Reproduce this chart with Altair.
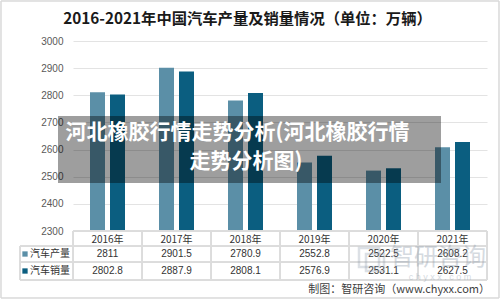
import altair as alt
import pandas as pd

years = ["2016年", "2017年", "2018年", "2019年", "2020年", "2021年"]
production = [2811, 2901.5, 2780.9, 2552.8, 2522.5, 2608.2]
sales = [2802.8, 2887.9, 2808.1, 2576.9, 2531.1, 2627.5]
series_names = ["汽车产量", "汽车销量"]
colors = ["#5B8FA7", "#0B5E80"]
y_ticks = [2300, 2400, 2500, 2600, 2700, 2800, 2900, 3000]
title_text = "2016-2021年中国汽车产量及销量情况（单位：万辆）"
overlay_lines = ["河北橡胶行情走势分析(河北橡胶行情", "走势分析图)"]
credit_text = "制图：智研咨询（www.chyxx.com）"

rows = []
for i, yr in enumerate(years):
    rows.append({"year": yr, "series": series_names[0], "value": production[i], "label": f"{production[i]:g}"})
    rows.append({"year": yr, "series": series_names[1], "value": sales[i], "label": f"{sales[i]:g}"})
df = pd.DataFrame(rows)
df_years = pd.DataFrame({"year": years})
df_series = pd.DataFrame({"series": series_names})

FONT = "Noto Sans CJK SC"
W, H = 414, 190

xscale = alt.Scale(domain=years, paddingInner=0, paddingOuter=0)
yscale = alt.Scale(domain=[2300, 3000], nice=False, zero=False)
cscale = alt.Scale(domain=series_names, range=colors)

bars = alt.Chart(df).mark_bar().encode(
    x=alt.X("year:N", scale=xscale, axis=None, sort=years),
    xOffset=alt.XOffset("series:N", scale=alt.Scale(domain=series_names, paddingInner=0.25, paddingOuter=0.85)),
    y=alt.Y("value:Q", scale=yscale, axis=alt.Axis(values=y_ticks, format="d", domain=False, ticks=False, labelPadding=10,
                                                   gridColor="#e3e3e3", labelColor="#595959", labelFontSize=10,
                                                   labelFont="Liberation Sans", title=None)),
    y2=alt.Y2(datum=2300),
    color=alt.Color("series:N", scale=cscale, legend=None),
)

line_color = "#dcdcdc"
layers = [bars]

# table horizontal lines
for yy, x0 in [(190, 0), (205, -53), (221, -53), (239, -53)]:
    layers.append(alt.Chart(df_years).mark_rule(color=line_color, strokeWidth=1).encode(
        x=alt.value(x0), x2=alt.value(W), y=alt.value(yy)))
# table vertical lines
layers.append(alt.Chart(df_years).mark_rule(color=line_color, strokeWidth=1).encode(
    x=alt.value(-53), y=alt.value(205), y2=alt.value(239)))
for k in range(7):
    layers.append(alt.Chart(df_years).mark_rule(color=line_color, strokeWidth=1).encode(
        x=alt.value(69 * k), y=alt.value(190), y2=alt.value(239)))

# year header
layers.append(alt.Chart(df_years).mark_text(fontSize=10, color="#333333", font=FONT, baseline="middle").encode(
    x=alt.X("year:N", scale=xscale, axis=None, sort=years), y=alt.value(199), text="year:N"))
# values
for s, yy in zip(series_names, [213, 230]):
    layers.append(alt.Chart(df).transform_filter(alt.datum.series == s).mark_text(
        fontSize=10, color="#333333", font="Liberation Sans", baseline="middle").encode(
        x=alt.X("year:N", scale=xscale, axis=None, sort=years), y=alt.value(yy), text="label:N"))
# row labels with squares
for s, yy in zip(series_names, [213, 230]):
    layers.append(alt.Chart(df_series).transform_filter(alt.datum.series == s).mark_square(size=28, opacity=1).encode(
        x=alt.value(-48), y=alt.value(yy), color=alt.Color("series:N", scale=cscale, legend=None)))
    layers.append(alt.Chart(df_series).transform_filter(alt.datum.series == s).mark_text(
        fontSize=10, color="#333333", font=FONT, align="left", baseline="middle").encode(
        x=alt.value(-43), y=alt.value(yy), text="series:N"))

# title
layers.append(alt.Chart(pd.DataFrame({"t": [title_text]})).mark_text(
    fontSize=15.3, fontWeight="bold", color="#1a1a1a", font=FONT, baseline="middle").encode(
    x=alt.value(174.5), y=alt.value(-22), text="t:N"))

# watermark
wm = pd.DataFrame({"t": ["智研咨询"], "u": ["c h y x x . c o m"]})
layers.append(alt.Chart(wm).mark_rect(fill=None, stroke="#8a98a8", strokeWidth=2.5, opacity=0.3).encode(
    x=alt.value(286), x2=alt.value(306), y=alt.value(207), y2=alt.value(226)))
layers.append(alt.Chart(wm).mark_rect(fill=None, stroke="#8a98a8", strokeWidth=2.5, opacity=0.3).encode(
    x=alt.value(293), x2=alt.value(311), y=alt.value(213), y2=alt.value(230)))
layers.append(alt.Chart(wm).mark_text(fontSize=24, color="#8a98a8", opacity=0.35, font=FONT, baseline="middle").encode(
    x=alt.value(365), y=alt.value(217), text="t:N"))
layers.append(alt.Chart(wm).mark_text(fontSize=9, color="#8a98a8", opacity=0.35, font="Liberation Sans", baseline="middle").encode(
    x=alt.value(367), y=alt.value(236), text="u:N"))

# credit
layers.append(alt.Chart(pd.DataFrame({"t": [credit_text]})).mark_text(
    fontSize=11, color="#404040", font=FONT, align="right", baseline="middle").encode(
    x=alt.value(417), y=alt.value(249), text="t:N"))

# outer border
layers.append(alt.Chart(df_series).mark_rect(fill=None, stroke="#d9d9d9", strokeWidth=1).encode(
    x=alt.value(-72), x2=alt.value(426), y=alt.value(-40), y2=alt.value(257)))

# overlay
ov = pd.DataFrame({"a": [overlay_lines[0]], "b": [overlay_lines[1]]})
layers.append(alt.Chart(ov).mark_rect(color="black", opacity=0.38).encode(
    x=alt.value(-15), x2=alt.value(368), y=alt.value(75), y2=alt.value(142)))
layers.append(alt.Chart(ov).mark_text(fontSize=21, fontWeight="bold", color="white", font=FONT, baseline="middle").encode(
    x=alt.value(164.5), y=alt.value(92), text="a:N"))
layers.append(alt.Chart(ov).mark_text(fontSize=21, fontWeight="bold", color="white", font=FONT, baseline="middle").encode(
    x=alt.value(173), y=alt.value(121), text="b:N"))

chart = alt.layer(*layers).properties(
    width=W, height=H,
    autosize=alt.AutoSizeParams(type="none"),
    padding={"left": 73, "top": 41, "right": 13, "bottom": 69},
    background="white",
).configure_view(stroke=None).configure_axis(grid=True)

chart.save("out.html", embed_options={"renderer": "svg", "actions": False})
